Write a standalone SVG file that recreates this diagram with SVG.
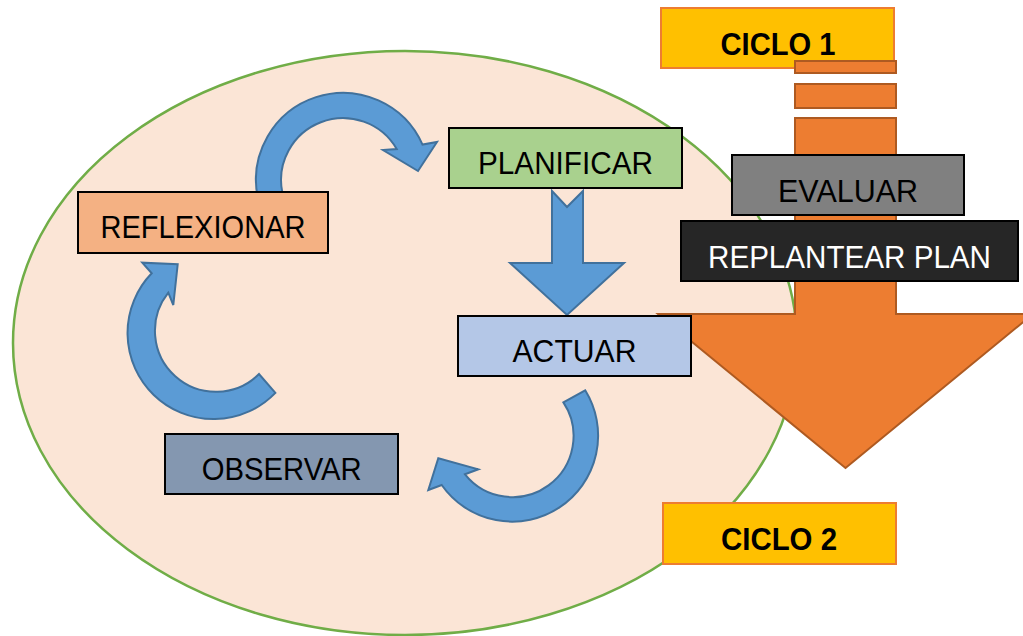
<svg xmlns="http://www.w3.org/2000/svg" width="1023" height="636" viewBox="0 0 1023 636">
<style>
.box{stroke:#000;stroke-width:2}
.lbl{font-family:"Liberation Sans",Arial,sans-serif;font-size:31px;text-anchor:middle;fill:#000}
.cyc{fill:#FFC000;stroke:#ED7D31;stroke-width:2}
.cyct{font-family:"Liberation Sans",Arial,sans-serif;font-size:31px;font-weight:bold;text-anchor:middle;fill:#000}
.blue{fill:#5B9BD5;stroke:#41719C;stroke-width:2;stroke-linejoin:miter}
.orange{fill:#ED7D31;stroke:#AE5A21;stroke-width:2}
</style>
<rect width="1023" height="636" fill="#fff"/>
<g id="background">
<ellipse cx="405" cy="343" rx="392" ry="292" fill="#FBE5D6" stroke="#70AD47" stroke-width="2.5"/>
</g>
<g id="ciclo1">
<rect class="cyc" x="661" y="8" width="233" height="60"/>
<text class="cyct" x="778" y="55" textLength="115" lengthAdjust="spacingAndGlyphs">CICLO 1</text>
</g>
<g id="big-arrow">
<rect class="orange" x="795" y="61" width="101" height="12"/>
<rect class="orange" x="795" y="84" width="101" height="24"/>
<path class="orange" d="M795,118 H896 V314 H1033 L845.5,468 L658,314 H795 Z"/>
</g>
<g id="evaluar">
<rect class="box" x="732" y="155" width="232" height="60" fill="#808080"/>
<text class="lbl" x="848" y="202" textLength="140" lengthAdjust="spacingAndGlyphs">EVALUAR</text>
</g>
<g id="replantear">
<rect class="box" x="681" y="221" width="337" height="60" fill="#262626"/>
<text class="lbl" x="849.5" y="268" style="fill:#fff" textLength="283" lengthAdjust="spacingAndGlyphs">REPLANTEAR PLAN</text>
</g>
<g id="connectors">
<path class="blue" d="M257.9,198.1 A87,87 0 0 1 422.5,144.6 L437,142 L418,171 L383,150 L396.7,149 A62,62 0 0 0 282.4,192.9 Z"/>
<path class="blue" d="M552,191 L567,207 L583,191 V263 H624 L567,315 L510,263 H552 Z"/>
<path class="blue" d="M585.2,390.3 A86,86 0 0 1 441.7,485 L428.3,490 L438.3,458.3 L478.3,469.3 L465,474.3 A61,61 0 0 0 563.4,402.4 Z"/>
<path class="blue" d="M275.4,392.9 A86,86 0 0 1 151.7,273.3 L142.3,262.7 L177.7,264.3 L173.3,305 L168.3,292.7 A61,61 0 0 0 259,374 Z"/>
</g>
<g id="planificar">
<rect class="box" x="449" y="128" width="233" height="60" fill="#A9D18E"/>
<text class="lbl" x="565.5" y="174" textLength="175" lengthAdjust="spacingAndGlyphs">PLANIFICAR</text>
</g>
<g id="actuar">
<rect class="box" x="458" y="316" width="233" height="60" fill="#B4C7E7"/>
<text class="lbl" x="574.5" y="362" textLength="124" lengthAdjust="spacingAndGlyphs">ACTUAR</text>
</g>
<g id="reflexionar">
<rect class="box" x="78" y="192" width="250" height="61" fill="#F4B183"/>
<text class="lbl" x="203" y="238" textLength="205" lengthAdjust="spacingAndGlyphs">REFLEXIONAR</text>
</g>
<g id="observar">
<rect class="box" x="165" y="434" width="233" height="60" fill="#8497B0"/>
<text class="lbl" x="281.7" y="480" textLength="160" lengthAdjust="spacingAndGlyphs">OBSERVAR</text>
</g>
<g id="ciclo2">
<rect class="cyc" x="663" y="503" width="233" height="61"/>
<text class="cyct" x="779" y="550" textLength="116" lengthAdjust="spacingAndGlyphs">CICLO 2</text>
</g>
</svg>
